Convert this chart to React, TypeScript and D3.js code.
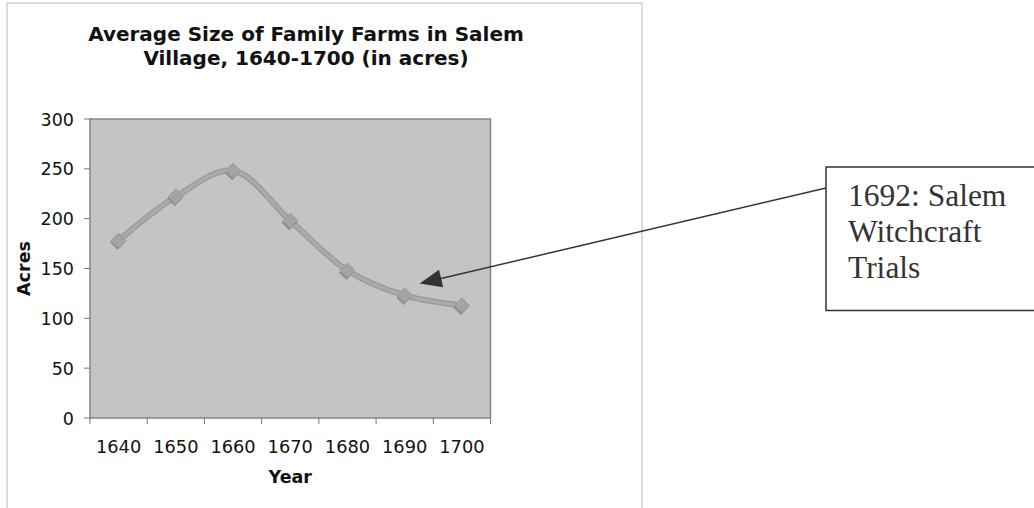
import React from "react";
import * as d3 from "d3";

const years = ["1640", "1650", "1660", "1670", "1680", "1690", "1700"];
const acres = [178, 222, 248, 198, 148, 123, 113];
const yTicks = [0, 50, 100, 150, 200, 250, 300];
const titleLines = ["Average Size of Family Farms in Salem", "Village, 1640-1700 (in acres)"];
const noteLines = ["1692: Salem", "Witchcraft", "Trials"];

export default function App() {
  const W = 1034, H = 508;
  const plot = { left: 90, right: 490.5, top: 119, bottom: 418 };
  const x = d3.scaleBand<string>().domain(years).range([plot.left, plot.right]).padding(0);
  const y = d3.scaleLinear().domain([0, 300]).range([plot.bottom, plot.top]);
  const cx = (i: number) => (x(years[i]) as number) + x.bandwidth() / 2;

  const line = d3
    .line<number>()
    .x((_, i) => cx(i))
    .y((d) => y(d))
    .curve(d3.curveCatmullRom.alpha(0.5));

  const sans = "'DejaVu Sans', Verdana, sans-serif";
  const serif = "'Liberation Serif', 'Times New Roman', serif";

  // annotation arrow
  const tip = { x: cx(5) + 15, y: y(135) };
  const start = { x: 826, y: 188 };
  const dx = start.x - tip.x, dy = start.y - tip.y;
  const len = Math.hypot(dx, dy);
  const ux = dx / len, uy = dy / len;
  const headL = 22, headW = 9;
  const bx = tip.x + ux * headL, by = tip.y + uy * headL;
  const head = `M${tip.x},${tip.y} L${bx - uy * headW},${by + ux * headW} L${bx + uy * headW},${by - ux * headW} Z`;

  const diamond = (px: number, py: number, r: number) =>
    `M${px},${py - r} L${px + r},${py} L${px},${py + r} L${px - r},${py} Z`;

  return (
    <svg width={W} height={H} style={{ position: "absolute", left: 0, top: 0, background: "#fff" }}>
      {/* chart outer border */}
      <rect x={7} y={3} width={635} height={520} fill="#fff" stroke="#c4c4c4" strokeWidth={1.2} />

      {/* title */}
      {titleLines.map((t, i) => (
        <text key={i} x={306} y={41 + i * 24} textAnchor="middle" fontFamily={sans} fontWeight="bold" fontSize={20} fill="#111">
          {t}
        </text>
      ))}

      {/* plot area */}
      <rect x={plot.left} y={plot.top} width={plot.right - plot.left} height={plot.bottom - plot.top} fill="#c4c4c4" stroke="#858585" strokeWidth={1.5} />

      {/* y axis */}
      {yTicks.map((t) => (
        <g key={t}>
          <line x1={84} x2={plot.left} y1={y(t)} y2={y(t)} stroke="#777" strokeWidth={1} />
          <text x={74} y={y(t) + 6.5} textAnchor="end" fontFamily={sans} fontSize={17.5} fill="#111">
            {t}
          </text>
        </g>
      ))}
      <text transform={`translate(30,${(plot.top + plot.bottom) / 2}) rotate(-90)`} textAnchor="middle" fontFamily={sans} fontWeight="bold" fontSize={17.5} fill="#111">
        Acres
      </text>

      {/* x axis */}
      {years.map((yr) => (
        <line key={"t" + yr} x1={x(yr) as number} x2={x(yr) as number} y1={plot.bottom} y2={plot.bottom + 6} stroke="#777" strokeWidth={1} />
      ))}
      <line x1={plot.right} x2={plot.right} y1={plot.bottom} y2={plot.bottom + 6} stroke="#777" strokeWidth={1} />
      {years.map((yr, i) => (
        <text key={yr} x={cx(i)} y={452.5} textAnchor="middle" fontFamily={sans} fontSize={17.8} fill="#111">
          {yr}
        </text>
      ))}
      <text x={(plot.left + plot.right) / 2} y={483} textAnchor="middle" fontFamily={sans} fontWeight="bold" fontSize={17.5} fill="#111">
        Year
      </text>

      {/* series */}
      <path d={line(acres) || ""} fill="none" stroke="#999" strokeWidth={6} strokeLinecap="round" />
      <path d={line(acres) || ""} fill="none" stroke="#aaa" strokeWidth={3.5} strokeLinecap="round" />
      {acres.map((v, i) => (
        <g key={i}>
          <path d={diamond(cx(i) - 1, y(v) + 2, 7.5)} fill="#8e8e8e" />
          <path d={diamond(cx(i), y(v), 7.5)} fill="#a4a4a4" stroke="#999" strokeWidth={1} />
        </g>
      ))}

      {/* annotation */}
      <line x1={start.x} y1={start.y} x2={bx} y2={by} stroke="#333" strokeWidth={1.5} />
      <path d={head} fill="#333" />
      <rect x={826} y={167} width={230} height={143.5} fill="#fff" stroke="#333" strokeWidth={1.5} />
      {noteLines.map((t, i) => (
        <text key={i} x={848} y={206 + i * 36} fontFamily={serif} fontSize={31.5} fill="#333">
          {t}
        </text>
      ))}
    </svg>
  );
}
